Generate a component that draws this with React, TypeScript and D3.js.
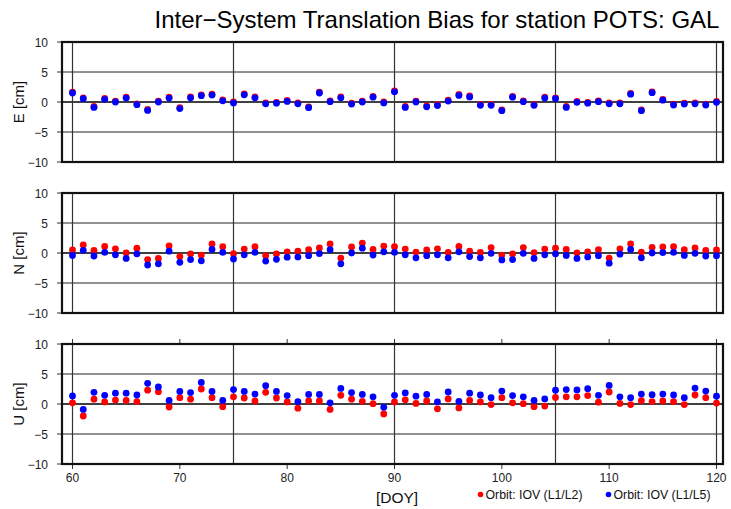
import React from "react";
import * as d3 from "d3";

const days: number[] = d3.range(60, 121);

const eL1L2: number[] = [1.65,0.7,-0.75,0.6,0.15,0.8,-0.3,-1.25,0.15,0.8,-0.95,0.85,1.2,1.3,0.35,0.0,1.35,0.85,-0.15,-0.05,0.25,-0.15,-0.8,1.65,0.2,0.85,-0.2,0.15,0.95,0.0,1.85,-0.75,0.15,-0.65,-0.45,0.3,1.25,1.0,-0.4,-0.4,-1.3,0.95,0.2,-0.4,0.8,0.7,-0.75,0.1,-0.05,0.2,-0.15,-0.15,1.45,-1.3,1.7,0.45,-0.35,-0.2,-0.15,-0.35,0.1];
const eL1L5: number[] = [1.5,0.55,-0.9,0.45,0.0,0.65,-0.45,-1.4,0.0,0.65,-1.1,0.7,1.05,1.15,0.2,-0.15,1.2,0.7,-0.3,-0.2,0.1,-0.3,-0.95,1.5,0.05,0.7,-0.35,0.0,0.8,-0.15,1.7,-0.9,0.0,-0.8,-0.6,0.15,1.1,0.85,-0.55,-0.55,-1.45,0.8,0.05,-0.55,0.65,0.55,-0.9,-0.05,-0.2,0.05,-0.3,-0.3,1.3,-1.45,1.55,0.3,-0.5,-0.35,-0.3,-0.5,-0.05];

const nL1L2: number[] = [0.5,1.35,0.45,1.1,0.7,0.0,0.8,-1.1,-0.9,1.2,-0.6,-0.15,-0.35,1.5,1.05,-0.1,0.65,1.05,-0.45,-0.15,0.2,0.3,0.55,0.85,1.5,-0.85,1.0,1.65,0.6,1.15,1.05,0.65,0.15,0.5,0.7,0.1,1.1,0.3,0.1,0.9,-0.35,-0.15,0.9,0.05,0.65,0.8,0.6,0.0,0.2,0.55,-0.85,0.7,1.5,0.15,0.95,1.0,1.05,0.55,0.85,0.45,0.5];
const nL1L5: number[] = [-0.4,0.45,-0.5,0.1,-0.3,-0.9,-0.15,-2.0,-1.8,0.3,-1.55,-1.1,-1.3,0.6,0.1,-1.0,-0.3,0.1,-1.35,-1.05,-0.7,-0.65,-0.45,-0.1,0.55,-1.8,0.0,0.8,-0.35,0.2,0.1,-0.3,-0.8,-0.45,-0.3,-0.8,0.2,-0.6,-0.8,-0.05,-1.15,-1.1,-0.05,-0.9,-0.3,-0.15,-0.4,-0.9,-0.65,-0.45,-1.7,-0.2,0.6,-0.8,0.0,0.05,0.1,-0.4,-0.05,-0.5,-0.45];

const uL1L2: number[] = [0.2,-2.0,0.8,0.35,0.65,0.6,0.4,2.3,2.05,-0.5,1.05,0.8,2.5,1.05,-0.45,1.2,1.0,0.5,1.95,1.0,0.35,-0.7,0.5,0.5,-0.9,1.45,0.8,0.45,0.05,-1.65,0.35,0.7,0.1,0.5,-0.8,0.85,-0.65,0.6,0.35,-0.1,1.05,0.2,0.05,-0.45,-0.35,1.1,1.2,1.2,1.4,0.3,2.0,0.1,-0.1,0.55,0.4,0.5,0.4,-0.1,1.5,1.05,0.15];
const uL1L5: number[] = [1.35,-0.9,1.95,1.45,1.8,1.8,1.5,3.45,2.85,0.6,2.1,1.9,3.6,2.1,0.6,2.4,2.1,1.65,3.05,2.1,1.4,0.4,1.6,1.6,0.2,2.6,1.9,1.6,1.2,-0.55,1.45,1.85,1.3,1.6,0.35,2.0,0.45,1.8,1.5,1.05,2.15,1.4,1.2,0.6,0.85,2.3,2.4,2.35,2.55,1.45,3.1,1.2,1.05,1.65,1.55,1.65,1.5,1.05,2.65,2.15,1.3];

const panelLabels: string[] = ["E [cm]", "N [cm]", "U [cm]"];
const yTicks: number[] = [-10, -5, 0, 5, 10];
const xTicks: number[] = [60, 70, 80, 90, 100, 110, 120];
const vLines: number[] = [60, 75, 90, 105, 120];
const seriesNames: string[] = ["Orbit: IOV (L1/L2)", "Orbit: IOV (L1/L5)"];
const seriesColors: string[] = ["#ff0000", "#0000ff"];
const title = "Inter\u2212System Translation Bias for station POTS: GAL";

const FONT = "'Liberation Sans', Arial, Helvetica, sans-serif";
const fmt = (v: number) => (v < 0 ? "\u2212" + Math.abs(v) : String(v));

export default function App() {
  const W = 731, H = 509;
  const left = 62, right = 723;
  const x = d3.scaleLinear().domain([60, 120]).range([72.5, 716.5]);
  const panelTops = [42, 193, 344];
  const ph = 120;
  const panels = [
    { label: panelLabels[0], s: [eL1L2, eL1L5] },
    { label: panelLabels[1], s: [nL1L2, nL1L5] },
    { label: panelLabels[2], s: [uL1L2, uL1L5] },
  ];
  return (
    <svg width={W} height={H} style={{ position: "absolute", left: 0, top: 0, background: "#fff" }} fontFamily={FONT}>
      <rect x={0} y={0} width={W} height={H} fill="#fff" />
      <text x={437} y={28} textAnchor="middle" fontSize={24} fill="#000">{title}</text>
      {panels.map((p, pi) => {
        const top = panelTops[pi];
        const y = d3.scaleLinear().domain([-10, 10]).range([top + ph, top]);
        const isLast = pi === panels.length - 1;
        return (
          <g key={pi}>
            {yTicks.filter(t => t !== -10 && t !== 10).map(t => (
              <line key={"g" + t} x1={left} x2={right} y1={y(t)} y2={y(t)} stroke={t === 0 ? "#000" : "#222"} strokeWidth={t === 0 ? 1.3 : 1} />
            ))}
            {vLines.map(v => (
              <line key={"v" + v} x1={x(v)} x2={x(v)} y1={top} y2={top + ph} stroke="#333" strokeWidth={1.2} />
            ))}
            {yTicks.map(t => (
              <g key={"t" + t}>
                <line x1={left - 5} x2={left} y1={y(t)} y2={y(t)} stroke="#333" strokeWidth={1} />
                <text x={48} y={y(t) + 4.5} textAnchor="end" fontSize={12} fill="#222">{fmt(t)}</text>
              </g>
            ))}
            {isLast && xTicks.map(t => (
              <g key={"x" + t}>
                <line x1={x(t)} x2={x(t)} y1={top + ph} y2={top + ph + 5} stroke="#333" strokeWidth={1} />
                <line x1={x(t)} x2={x(t)} y1={top - 5} y2={top} stroke="#333" strokeWidth={1} />
                <text x={x(t)} y={top + ph + 18} textAnchor="middle" fontSize={12} fill="#222">{t}</text>
              </g>
            ))}
            {p.s.map((vals, si) => (
              <g key={"s" + si}>
                {vals.map((v, i) => (
                  <circle key={i} cx={x(days[i])} cy={y(v)} r={3.4} fill={seriesColors[si]} />
                ))}
              </g>
            ))}
            <rect x={left} y={top} width={right - left} height={ph} fill="none" stroke="#111" strokeWidth={2.2} />
            <text transform={`translate(24,${top + ph / 2}) rotate(-90)`} textAnchor="middle" fontSize={15} fill="#111">{p.label}</text>
          </g>
        );
      })}
      <text x={397} y={503} textAnchor="middle" fontSize={15.5} fill="#111">[DOY]</text>
      {seriesNames.map((n, i) => {
        const lx = i === 0 ? 480.5 : 608.5;
        return (
          <g key={n}>
            <circle cx={lx} cy={494.5} r={2.8} fill={seriesColors[i]} />
            <text x={lx + 5} y={499} fontSize={12.3} fill="#111">{n}</text>
          </g>
        );
      })}
    </svg>
  );
}
